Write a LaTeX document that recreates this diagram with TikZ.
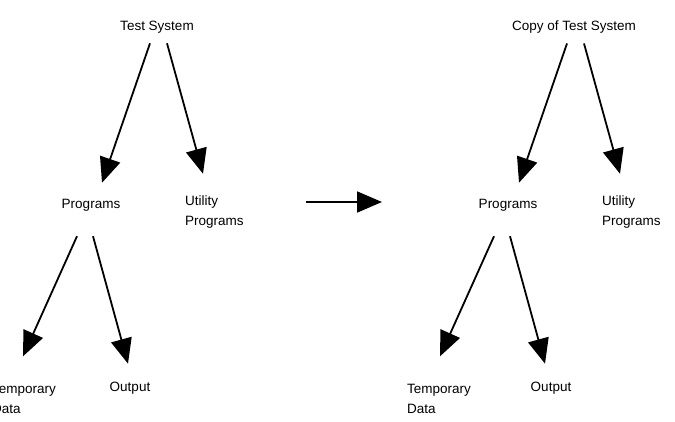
\documentclass[tikz,border=0pt]{standalone}
\usepackage{fontspec}
\setmainfont{Liberation Sans}
\usetikzlibrary{arrows.meta, calc}

\begin{document}
\begin{tikzpicture}[
  x=1pt, y=-1pt,
  font=\fontsize{13.5}{19.5}\selectfont,
  lbl/.style={inner sep=0pt, align=center},
  lblw/.style={inner sep=0pt, align=left, anchor=west},
  ar/.style={-{Triangle[length=25pt, width=21pt]}, line width=1.8pt}
]
\useasboundingbox (0,0) rectangle (675,422);
% original system
\node[lbl]  (top)  at (157,27)  {Test System};
\node[lbl]  (prog) at (91,205)  {Programs};
\node[lblw] (util) at (185,212) {Utility\\Programs};
\node[lblw] (tmp)  at (-8,399)  {Temporary\\Data};
\node[lbl]  (out)  at (130,388) {Output};
% copy
\node[lbl]  (ctop)  at (574,27)  {Copy of Test System};
\node[lbl]  (cprog) at (508,205) {Programs};
\node[lblw] (cutil) at (602,212) {Utility\\Programs};
\node[lblw] (ctmp)  at (407,399) {Temporary\\Data};
\node[lbl]  (cout)  at (551,388) {Output};
% copy arrow
\coordinate (a0) at (306,202);
\coordinate (a1) at (382,202);
\draw[ar] (a0) -- (a1);
\draw[ar] ($(top.south)+(-7,10)$) -- ($(prog.north)+(11,-16)$);
\draw[ar] ($(top.south)+(10,10)$) -- ($(util.north west)+(18,-22)$);
\draw[ar] ($(prog.south)+(-14,25)$) -- ($(tmp.north west)+(31,-28)$);
\draw[ar] ($(prog.south)+(2,25)$) -- ($(out.north)+(-2,-18)$);
\draw[ar] ($(ctop.south)+(-7,10)$) -- ($(cprog.north)+(11,-16)$);
\draw[ar] ($(ctop.south)+(10,10)$) -- ($(cutil.north west)+(18,-22)$);
\draw[ar] ($(cprog.south)+(-14,25)$) -- ($(ctmp.north west)+(33,-28)$);
\draw[ar] ($(cprog.south)+(2,25)$) -- ($(cout.north)+(-6,-18)$);
\end{tikzpicture}
\end{document}
